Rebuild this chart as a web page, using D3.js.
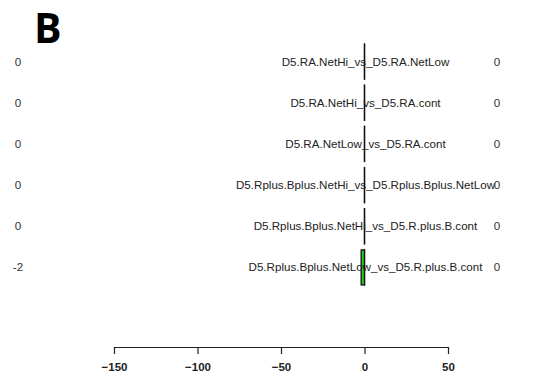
<!DOCTYPE html>
<html>
<head>
<meta charset="utf-8">
<script src="https://cdn.jsdelivr.net/npm/d3@7"></script>
<style>
  body { margin: 0; background: #fff; }
  text { font-family: "Liberation Sans", Arial, sans-serif; }
</style>
</head>
<body>
<svg id="chart"></svg>
<script>
const comparisons = [
	"D5.RA.NetHi_vs_D5.RA.NetLow",
	"D5.RA.NetHi_vs_D5.RA.cont",
	"D5.RA.NetLow_vs_D5.RA.cont",
	"D5.Rplus.Bplus.NetHi_vs_D5.Rplus.Bplus.NetLow",
	"D5.Rplus.Bplus.NetHi_vs_D5.R.plus.B.cont",
	"D5.Rplus.Bplus.NetLow_vs_D5.R.plus.B.cont"
];
const downValues = [0, 0, 0, 0, 0, -2];
const upValues = [0, 0, 0, 0, 0, 0];
const xTicks = [-150, -100, -50, 0, 50];

const width = 555;
const height = 381;

const svg = d3.select("#chart")
	.attr("width", width)
	.attr("height", height);

const x = d3.scaleLinear()
	.domain([-150, 50])
	.range([114, 448]);

const y = d3.scaleBand()
	.domain(comparisons)
	.range([41, 288])
	.paddingInner(0.15)
	.paddingOuter(0.075);

// panel letter
svg.append("text")
	.attr("x", 34)
	.attr("y", 43)
	.attr("font-size", 41)
	.attr("font-weight", "bold")
	.style("font-family", "'Open Sans', 'Liberation Sans', sans-serif")
	.text("B");

const rows = comparisons.map((c, i) => ({ name: c, down: downValues[i], up: upValues[i] }));

// zero-length bars still show their border as a thin line, like R's barplot
const barWidth = (v) => Math.max(Math.abs(x(v) - x(0)), 0.01);

// bars (up-regulated, positive side)
svg.selectAll("rect.up")
	.data(rows)
	.enter()
	.append("rect")
	.attr("class", "up")
	.attr("x", (d) => x(Math.min(d.up, 0)))
	.attr("y", (d) => y(d.name))
	.attr("width", (d) => barWidth(d.up))
	.attr("height", y.bandwidth())
	.attr("fill", "#ee2222")
	.attr("stroke", "#111")
	.attr("stroke-width", 1.3);

// bars (down-regulated, negative side)
svg.selectAll("rect.down")
	.data(rows)
	.enter()
	.append("rect")
	.attr("class", "down")
	.attr("x", (d) => x(Math.min(d.down, 0)))
	.attr("y", (d) => y(d.name))
	.attr("width", (d) => barWidth(d.down))
	.attr("height", y.bandwidth())
	.attr("fill", "#22cc22")
	.attr("stroke", "#111")
	.attr("stroke-width", 1.3);

// comparison labels
svg.selectAll("text.label")
	.data(rows)
	.enter()
	.append("text")
	.attr("class", "label")
	.attr("x", x(0) + 1)
	.attr("y", (d) => y(d.name) + y.bandwidth() / 2 + 4)
	.attr("text-anchor", "middle")
	.attr("font-size", 11.6)
	.attr("fill", "#222")
	.text((d) => d.name);

// left counts
svg.selectAll("text.left")
	.data(rows)
	.enter()
	.append("text")
	.attr("class", "left")
	.attr("x", 18)
	.attr("y", (d) => y(d.name) + y.bandwidth() / 2 + 4)
	.attr("text-anchor", "middle")
	.attr("font-size", 11.6)
	.attr("fill", "#333")
	.text((d) => d.down);

// right counts
svg.selectAll("text.right")
	.data(rows)
	.enter()
	.append("text")
	.attr("class", "right")
	.attr("x", 497)
	.attr("y", (d) => y(d.name) + y.bandwidth() / 2 + 4)
	.attr("text-anchor", "middle")
	.attr("font-size", 11.6)
	.attr("fill", "#333")
	.text((d) => d.up);

// x axis
const axis = svg.append("g")
	.attr("transform", "translate(0,347)")
	.call(d3.axisBottom(x).tickValues(xTicks).tickSize(7).tickSizeOuter(0).tickFormat((d) => d < 0 ? "\u2212" + Math.abs(d) : d));

axis.select(".domain").attr("stroke", "#222").attr("stroke-width", 1.2);
axis.selectAll(".tick line").attr("stroke", "#222").attr("stroke-width", 1.2);
axis.selectAll(".tick text")
	.attr("dy", "1.25em")
	.attr("font-size", 11.5)
	.attr("font-weight", "bold")
	.attr("fill", "#222")
	.style("font-family", "'Liberation Sans', Arial, sans-serif");
</script>
</body>
</html>
